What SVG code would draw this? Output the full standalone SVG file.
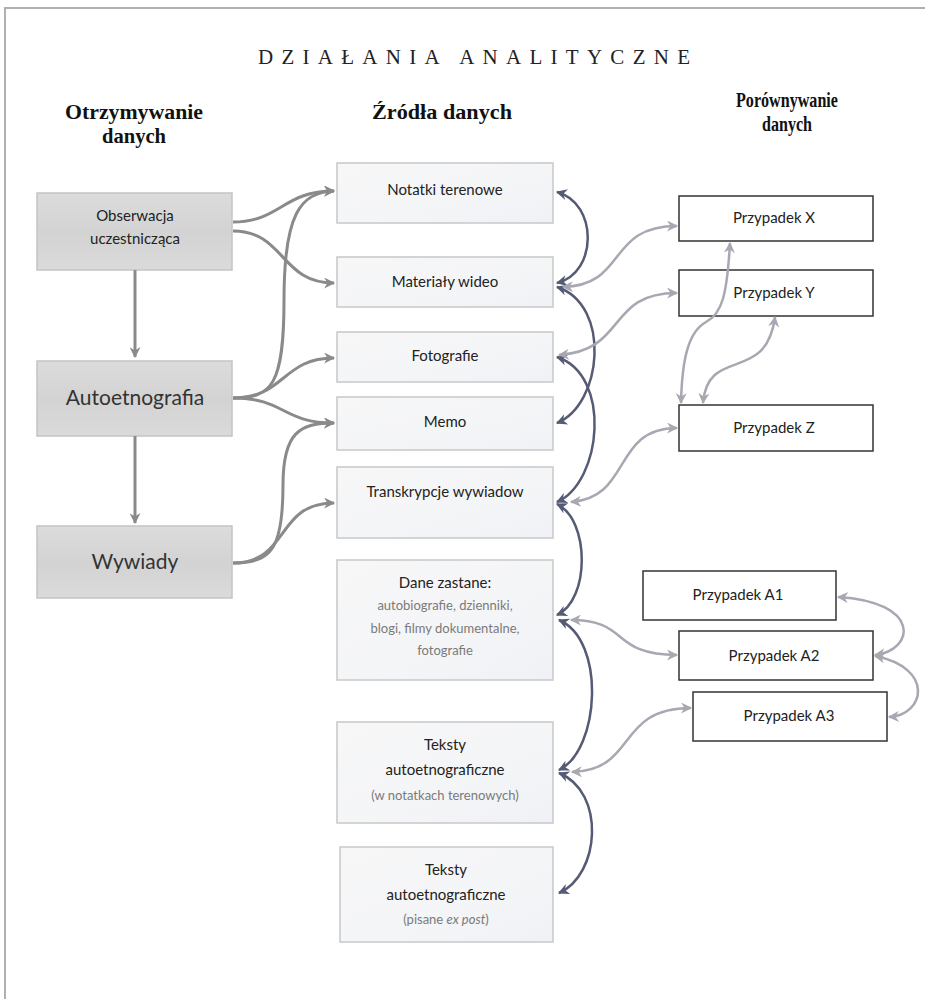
<svg xmlns="http://www.w3.org/2000/svg" width="925" height="999" viewBox="0 0 925 999">
  <defs>
    <linearGradient id="gradSrc" x1="0" y1="0" x2="0" y2="1">
      <stop offset="0" stop-color="#dcdcdc"/>
      <stop offset="0.5" stop-color="#d3d3d3"/>
      <stop offset="1" stop-color="#dadada"/>
    </linearGradient>
    <linearGradient id="gradData" x1="0" y1="0" x2="1" y2="1">
      <stop offset="0" stop-color="#f7f7f7"/>
      <stop offset="0.6" stop-color="#f4f5f7"/>
      <stop offset="1" stop-color="#eff1f6"/>
    </linearGradient>
    <marker id="arrGray" viewBox="0 0 10 10" refX="9" refY="5" markerWidth="13" markerHeight="11" markerUnits="userSpaceOnUse" orient="auto-start-reverse">
      <path d="M0,0 L10,5 L0,10 L3,5 Z" fill="#8a8a8a"/>
    </marker>
    <marker id="arrDark" viewBox="0 0 10 10" refX="9" refY="5" markerWidth="13" markerHeight="11" markerUnits="userSpaceOnUse" orient="auto-start-reverse">
      <path d="M0,0 L10,5 L0,10 L3,5 Z" fill="#555a75"/>
    </marker>
    <marker id="arrLight" viewBox="0 0 10 10" refX="9" refY="5" markerWidth="13" markerHeight="11" markerUnits="userSpaceOnUse" orient="auto-start-reverse">
      <path d="M0,0 L10,5 L0,10 L3,5 Z" fill="#a7a8b2"/>
    </marker>
  </defs>
  <style>
    .frame { fill: none; stroke: #b0b0b0; stroke-width: 2; }
    .title { font-family: "Liberation Serif", "DejaVu Serif", serif; font-size: 21px; fill: #222; }
    .head { font-family: "Liberation Serif", "DejaVu Serif", serif; font-size: 21px; font-weight: bold; fill: #111; text-anchor: middle; }
    .src rect { fill: url(#gradSrc); stroke: #c4c4c4; stroke-width: 1.5; }
    .data rect { fill: url(#gradData); stroke: #c8c8c8; stroke-width: 1.5; }
    .case rect { fill: #ffffff; stroke: #333333; stroke-width: 1.5; }
    .lbl { font-family: Lato, "Liberation Sans", sans-serif; fill: #222; text-anchor: middle; }
    .s15 { font-size: 15px; }
    .s20 { font-size: 21px; fill: #333; }
    .s14 { font-size: 15px; }
    .sub { font-size: 13px; fill: #7a7a7a; }
    .gray { fill: none; stroke: #8a8a8a; stroke-width: 3; marker-end: url(#arrGray); }
    .dark { fill: none; stroke: #555a75; stroke-width: 2.5; marker-start: url(#arrDark); marker-end: url(#arrDark); }
    .light { fill: none; stroke: #a7a8b2; stroke-width: 2.5; marker-start: url(#arrLight); marker-end: url(#arrLight); }
  </style>

  <rect width="925" height="999" fill="#ffffff"/>
  <path class="frame" d="M5,999 L5,8 L925,8"/>

  <!-- headings -->
  <text class="title" x="258" y="64" textLength="432" lengthAdjust="spacing">DZIAŁANIA ANALITYCZNE</text>
  <text class="head" x="134" y="119" textLength="138" lengthAdjust="spacingAndGlyphs">Otrzymywanie</text>
  <text class="head" x="134" y="143" textLength="64" lengthAdjust="spacingAndGlyphs">danych</text>
  <text class="head" x="442" y="119" textLength="140" lengthAdjust="spacingAndGlyphs">Źródła danych</text>
  <text class="head" x="787" y="107" textLength="102" lengthAdjust="spacingAndGlyphs">Porównywanie</text>
  <text class="head" x="787" y="131" textLength="50" lengthAdjust="spacingAndGlyphs">danych</text>

  <!-- collection methods -->
  <g id="obserwacja" class="src">
    <rect x="37" y="193" width="195" height="77"/>
    <text class="lbl s15" x="135" y="221">Obserwacja</text>
    <text class="lbl s15" x="135" y="244">uczestnicząca</text>
  </g>
  <g id="autoetnografia" class="src">
    <rect x="37" y="361" width="195" height="75"/>
    <text class="lbl s20" x="135" y="405">Autoetnografia</text>
  </g>
  <g id="wywiady" class="src">
    <rect x="37" y="526" width="195" height="72"/>
    <text class="lbl s20" x="135" y="569">Wywiady</text>
  </g>

  <!-- data sources -->
  <g id="notatki" class="data">
    <rect x="337" y="163" width="216" height="60"/>
    <text class="lbl s14" x="445" y="195">Notatki terenowe</text>
  </g>
  <g id="materialy" class="data">
    <rect x="337" y="257" width="216" height="50"/>
    <text class="lbl s14" x="445" y="287">Materiały wideo</text>
  </g>
  <g id="fotografie" class="data">
    <rect x="337" y="332" width="216" height="50"/>
    <text class="lbl s14" x="445" y="361">Fotografie</text>
  </g>
  <g id="memo" class="data">
    <rect x="337" y="397" width="216" height="53"/>
    <text class="lbl s14" x="445" y="427">Memo</text>
  </g>
  <g id="transkrypcje" class="data">
    <rect x="337" y="467" width="216" height="71"/>
    <text class="lbl s14" x="445" y="497">Transkrypcje wywiadow</text>
  </g>
  <g id="dane-zastane" class="data">
    <rect x="337" y="560" width="216" height="120"/>
    <text class="lbl s14" x="445" y="588">Dane zastane:</text>
    <text class="lbl sub" x="445" y="610">autobiografie, dzienniki,</text>
    <text class="lbl sub" x="445" y="633">blogi, filmy dokumentalne,</text>
    <text class="lbl sub" x="445" y="655">fotografie</text>
  </g>
  <g id="teksty-notatki" class="data">
    <rect x="337" y="722" width="216" height="101"/>
    <text class="lbl s14" x="445" y="750">Teksty</text>
    <text class="lbl s14" x="445" y="775">autoetnograficzne</text>
    <text class="lbl sub" x="445" y="800">(w notatkach terenowych)</text>
  </g>
  <g id="teksty-ex-post" class="data">
    <rect x="340" y="847" width="213" height="95"/>
    <text class="lbl s14" x="446" y="875">Teksty</text>
    <text class="lbl s14" x="446" y="900">autoetnograficzne</text>
    <text class="lbl sub" x="446" y="924">(pisane <tspan font-style="italic">ex post</tspan>)</text>
  </g>

  <!-- cases -->
  <g id="przypadek-x" class="case">
    <rect x="679" y="196" width="194" height="45"/>
    <text class="lbl s14" x="774" y="223">Przypadek X</text>
  </g>
  <g id="przypadek-y" class="case">
    <rect x="679" y="270" width="194" height="46"/>
    <text class="lbl s14" x="774" y="298">Przypadek Y</text>
  </g>
  <g id="przypadek-z" class="case">
    <rect x="679" y="405" width="194" height="46"/>
    <text class="lbl s14" x="774" y="433">Przypadek Z</text>
  </g>
  <g id="przypadek-a1" class="case">
    <rect x="643" y="571" width="193" height="49"/>
    <text class="lbl s14" x="738" y="600">Przypadek A1</text>
  </g>
  <g id="przypadek-a2" class="case">
    <rect x="679" y="631" width="194" height="49"/>
    <text class="lbl s14" x="774" y="661">Przypadek A2</text>
  </g>
  <g id="przypadek-a3" class="case">
    <rect x="693" y="692" width="194" height="49"/>
    <text class="lbl s14" x="789" y="721">Przypadek A3</text>
  </g>

  <!-- connectors (drawn last, so the X–Z link shows across box Y) -->
  <g id="connectors">
    <!-- data collection flow -->
    <path class="gray" d="M135,270 L135,357"/>
    <path class="gray" d="M135,436 L135,523"/>
    <!-- collection methods to data sources -->
    <path class="gray" d="M233,222 C280,222 283,191 334,191"/>
    <path class="gray" d="M233,231 C285,231 280,283 334,283"/>
    <path class="gray" d="M233,398 C272,398 284,385 284,300 C284,215 300,192 334,191"/>
    <path class="gray" d="M233,398 C285,398 282,358 334,358"/>
    <path class="gray" d="M233,398 C285,398 282,423 334,423"/>
    <path class="gray" d="M233,563 C272,563 283,548 283,485 C283,432 300,423 334,423"/>
    <path class="gray" d="M233,563 C290,563 275,503 334,503"/>
    <!-- links between data sources -->
    <path class="dark" d="M557,192 C598,203 598,273 557,283"/>
    <path class="dark" d="M557,287 C612,305 602,405 557,423"/>
    <path class="dark" d="M557,357 C612,375 602,482 557,502"/>
    <path class="dark" d="M557,504 C590,520 590,600 557,615"/>
    <path class="dark" d="M559,620 C606,640 600,750 559,770"/>
    <path class="dark" d="M559,773 C606,792 600,875 559,893"/>
    <!-- data sources to cases -->
    <path class="light" d="M563,287 C628,285 606,226 677,226"/>
    <path class="light" d="M559,355 C628,350 606,293 677,293"/>
    <path class="light" d="M571,502 C632,498 612,428 677,428"/>
    <path class="light" d="M571,620 C630,620 610,655 677,655"/>
    <path class="light" d="M572,772 C638,770 615,708 691,708"/>
    <!-- links between cases -->
    <path class="light" d="M730,243 C727,295 722,314 706,322 C688,332 682,360 681,403"/>
    <path class="light" d="M775,317 C766,385 708,345 703,403"/>
    <path class="light" d="M838,597 C922,602 915,650 875,655"/>
    <path class="light" d="M875,656 C935,668 925,715 889,717"/>
  </g>
</svg>
